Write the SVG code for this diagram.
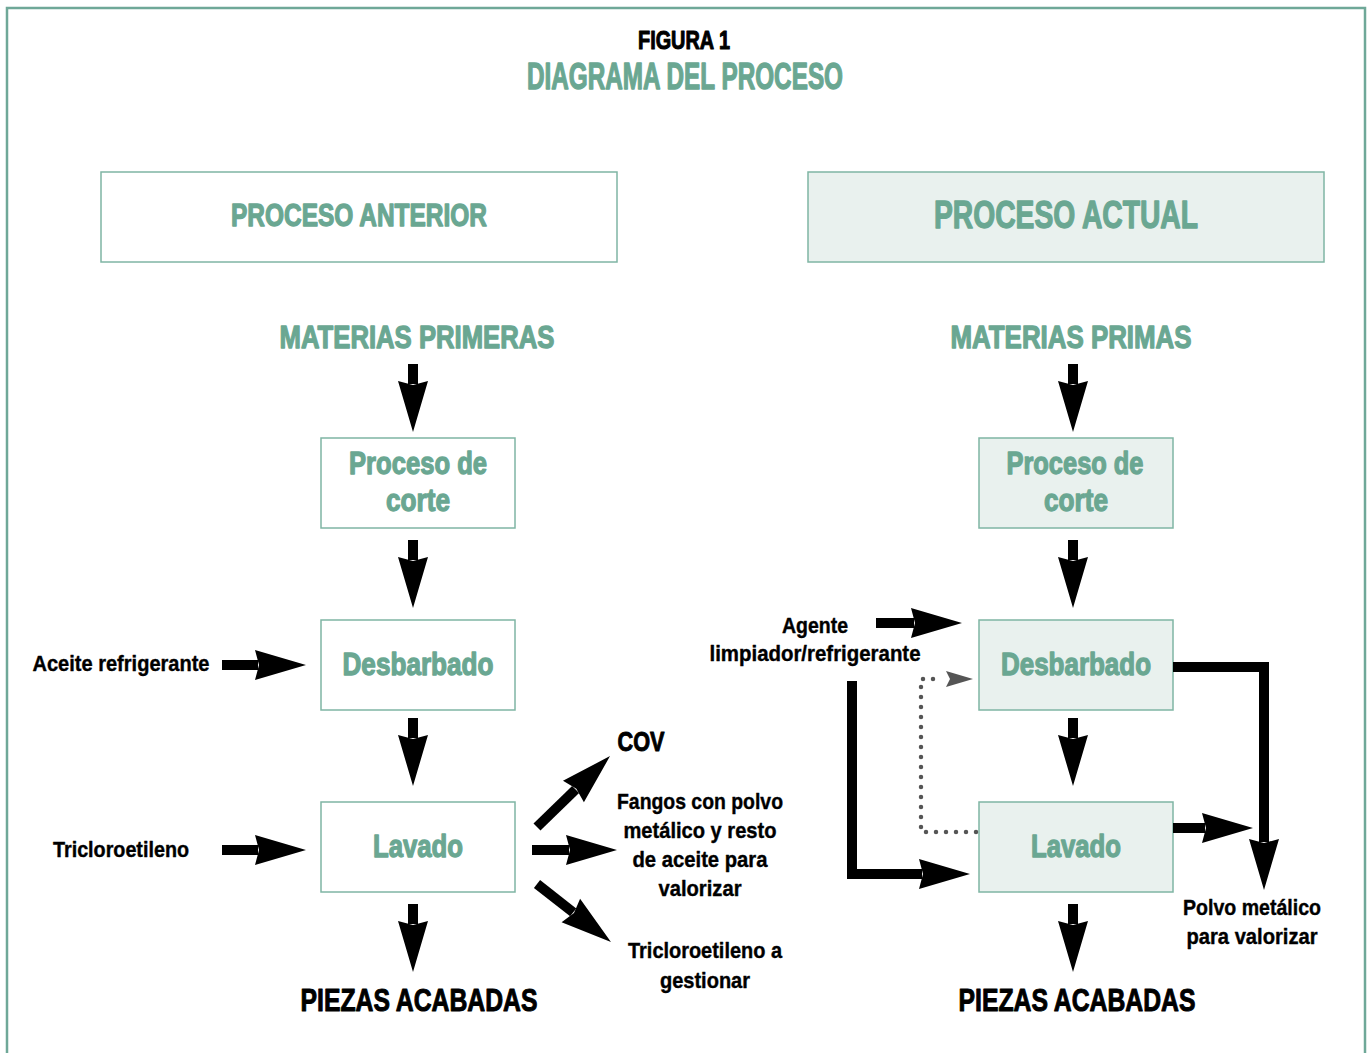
<svg xmlns="http://www.w3.org/2000/svg" width="1369" height="1053" viewBox="0 0 1369 1053">
<style>
text{font-family:"Liberation Sans Narrow","Liberation Sans",Arial,sans-serif;font-weight:bold;text-anchor:middle}
.t{fill:#6aa792;stroke:#6aa792;stroke-width:1.3;stroke-linejoin:round}
.k{fill:#000;stroke:#000;stroke-width:0.4;stroke-linejoin:round}
.kb{fill:#000;stroke:#000;stroke-width:1;stroke-linejoin:round}
.box{fill:#fff;stroke:#7fb5a4;stroke-width:1.5}
.boxf{fill:#e9f1ee;stroke:#7fb5a4;stroke-width:1.5}
.ar{fill:none;stroke:#000;stroke-width:10;marker-end:url(#ah)}
.dot{fill:none;stroke:#555;stroke-width:4.5;stroke-linecap:round;stroke-dasharray:0 10}
</style>
<defs>
<marker id="ah" markerUnits="userSpaceOnUse" markerWidth="60" markerHeight="40" viewBox="-6 -20 60 40" refX="0" refY="0" orient="auto" overflow="visible">
<path d="M-3,-15 L48,0 L-3,15 L1,0 Z" fill="#000"/>
</marker>
</defs>
<rect width="1369" height="1053" fill="#fff"/>
<rect x="7" y="8" width="1358" height="1100" fill="none" stroke="#6fa898" stroke-width="2.5"/>
<g id="title">
<text class="kb" x="684" y="49" font-size="25" textLength="92" lengthAdjust="spacingAndGlyphs">FIGURA 1</text>
<text class="t" x="685" y="89" font-size="36" textLength="316" lengthAdjust="spacingAndGlyphs">DIAGRAMA DEL PROCESO</text>
</g>
<g id="hdr-left">
<rect class="box" x="101" y="172" width="516" height="90"/>
<text class="t" x="359" y="226" font-size="31" textLength="256" lengthAdjust="spacingAndGlyphs">PROCESO ANTERIOR</text>
</g>
<g id="hdr-right">
<rect class="boxf" x="808" y="172" width="516" height="90"/>
<text class="t" x="1066" y="228" font-size="38" textLength="264" lengthAdjust="spacingAndGlyphs">PROCESO ACTUAL</text>
</g>
<g id="mp-left"><text class="t" x="417" y="348" font-size="32" textLength="275" lengthAdjust="spacingAndGlyphs">MATERIAS PRIMERAS</text></g>
<g id="mp-right"><text class="t" x="1071" y="348" font-size="32" textLength="241" lengthAdjust="spacingAndGlyphs">MATERIAS PRIMAS</text></g>
<g id="corte-left">
<rect class="box" x="321" y="438" width="194" height="90"/>
<text class="t" x="418" y="474" font-size="32" textLength="138" lengthAdjust="spacingAndGlyphs">Proceso de</text>
<text class="t" x="418" y="511" font-size="32" textLength="64" lengthAdjust="spacingAndGlyphs">corte</text>
</g>
<g id="desb-left">
<rect class="box" x="321" y="620" width="194" height="90"/>
<text class="t" x="418" y="675" font-size="32" textLength="151" lengthAdjust="spacingAndGlyphs">Desbarbado</text>
</g>
<g id="lav-left">
<rect class="box" x="321" y="802" width="194" height="90"/>
<text class="t" x="418" y="857" font-size="32" textLength="90" lengthAdjust="spacingAndGlyphs">Lavado</text>
</g>
<g id="piezas-left"><text class="kb" x="419" y="1011" font-size="32" textLength="237" lengthAdjust="spacingAndGlyphs">PIEZAS ACABADAS</text></g>
<g id="corte-right">
<rect class="boxf" x="979" y="438" width="194" height="90"/>
<text class="t" x="1075" y="474" font-size="32" textLength="137" lengthAdjust="spacingAndGlyphs">Proceso de</text>
<text class="t" x="1076" y="511" font-size="32" textLength="64" lengthAdjust="spacingAndGlyphs">corte</text>
</g>
<g id="desb-right">
<rect class="boxf" x="979" y="620" width="194" height="90"/>
<text class="t" x="1076" y="675" font-size="32" textLength="150" lengthAdjust="spacingAndGlyphs">Desbarbado</text>
</g>
<g id="lav-right">
<rect class="boxf" x="979" y="802" width="194" height="90"/>
<text class="t" x="1076" y="857" font-size="32" textLength="90" lengthAdjust="spacingAndGlyphs">Lavado</text>
</g>
<g id="piezas-right"><text class="kb" x="1077" y="1011" font-size="32" textLength="237" lengthAdjust="spacingAndGlyphs">PIEZAS ACABADAS</text></g>
<g id="labels">
<text class="k" x="121" y="671" font-size="22" textLength="177" lengthAdjust="spacingAndGlyphs">Aceite refrigerante</text>
<text class="k" x="121" y="857" font-size="22" textLength="136" lengthAdjust="spacingAndGlyphs">Tricloroetileno</text>
<text class="kb" x="641" y="751" font-size="28" textLength="47" lengthAdjust="spacingAndGlyphs">COV</text>
<text class="k" x="700" y="809" font-size="22" textLength="166" lengthAdjust="spacingAndGlyphs">Fangos con polvo</text>
<text class="k" x="700" y="838" font-size="22" textLength="153" lengthAdjust="spacingAndGlyphs">metálico y resto</text>
<text class="k" x="700" y="867" font-size="22" textLength="135" lengthAdjust="spacingAndGlyphs">de aceite para</text>
<text class="k" x="700" y="896" font-size="22" textLength="83" lengthAdjust="spacingAndGlyphs">valorizar</text>
<text class="k" x="705" y="958" font-size="22" textLength="154" lengthAdjust="spacingAndGlyphs">Tricloroetileno a</text>
<text class="k" x="705" y="988" font-size="22" textLength="90" lengthAdjust="spacingAndGlyphs">gestionar</text>
<text class="k" x="815" y="633" font-size="22" textLength="66" lengthAdjust="spacingAndGlyphs">Agente</text>
<text class="k" x="815" y="661" font-size="22" textLength="211" lengthAdjust="spacingAndGlyphs">limpiador/refrigerante</text>
<text class="k" x="1252" y="915" font-size="22" textLength="138" lengthAdjust="spacingAndGlyphs">Polvo metálico</text>
<text class="k" x="1252" y="944" font-size="22" textLength="131" lengthAdjust="spacingAndGlyphs">para valorizar</text>
</g>
<g id="connectors">
<path class="ar" d="M413,364 V384"/>
<path class="ar" d="M413,540 V560"/>
<path class="ar" d="M413,718 V738"/>
<path class="ar" d="M413,904 V924"/>
<path class="ar" d="M1073,364 V384"/>
<path class="ar" d="M1073,540 V560"/>
<path class="ar" d="M1073,718 V738"/>
<path class="ar" d="M1073,904 V924"/>
<path class="ar" d="M222,665 H258"/>
<path class="ar" d="M222,850 H258"/>
<path class="ar" d="M532,850 H569"/>
<path class="ar" d="M537,827 L575.6,789.5"/>
<path class="ar" d="M537,884 L573.2,912.4"/>
<path class="ar" d="M876,623 H914"/>
<path class="ar" d="M852,681 V874 H922"/>
<path class="ar" d="M1173,667 H1264 V842"/>
<path class="ar" d="M1173,828 H1205"/>
<path class="dot" d="M976,832 H921 V679 H941"/>
<polygon points="946,671 973,679 946,687 950,679" fill="#555"/>
</g>
</svg>
